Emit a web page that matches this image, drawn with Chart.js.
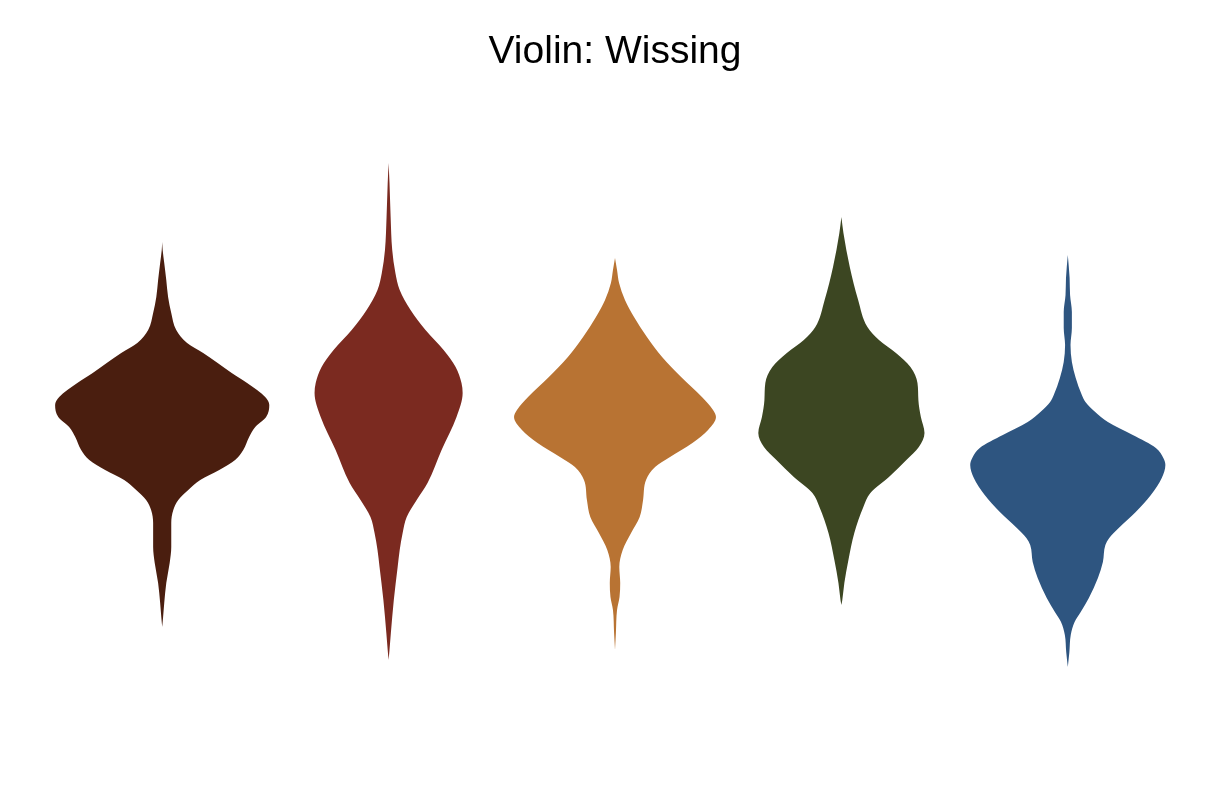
<!DOCTYPE html>
<html>
<head>
<meta charset="utf-8">
<title>Violin: Wissing</title>
<script src="https://cdn.jsdelivr.net/npm/chart.js@4"></script>
<style>
  html, body { margin: 0; padding: 0; background: #fff; }
  #wrap { width: 1213px; height: 808px; position: relative; }
</style>
</head>
<body>
<div id="wrap"><canvas id="chart"></canvas></div>
<script>
// violin positions (category index) and fill colours
const groups = [1, 2, 3, 4, 5];
const colors = ['#4a1e0f', '#7b2a20', '#b87333', '#3c4622', '#2e5580'];

// value grid + half width (kernel density) for every violin
const vals1 = [0.73, 0.83, 0.97, 1.17, 1.37, 1.53, 1.77, 1.90, 2.00, 2.10, 2.20, 2.30, 2.40, 2.50, 2.63, 2.73, 2.83, 2.95, 3.03, 3.17, 3.27, 3.37, 3.47, 3.57, 3.70, 3.87, 4.03, 4.20, 4.37, 4.50, 4.58];
const dens1 = [0, 0.004, 0.009, 0.018, 0.033, 0.040, 0.040, 0.049, 0.071, 0.115, 0.168, 0.252, 0.322, 0.358, 0.384, 0.411, 0.459, 0.473, 0.455, 0.375, 0.307, 0.245, 0.181, 0.110, 0.062, 0.040, 0.026, 0.018, 0.009, 0.002, 0];

const vals2 = [0.40, 0.50, 0.67, 1.00, 1.33, 1.50, 1.67, 1.83, 2.00, 2.17, 2.50, 2.83, 3.07, 3.17, 3.33, 3.50, 3.70, 3.90, 4.10, 4.27, 4.50, 4.83, 5.17, 5.37];
const dens2 = [0, 0.004, 0.010, 0.023, 0.040, 0.049, 0.062, 0.080, 0.124, 0.172, 0.234, 0.300, 0.327, 0.322, 0.296, 0.243, 0.163, 0.097, 0.049, 0.030, 0.016, 0.009, 0.004, 0];

const vals3 = [0.50, 0.67, 0.90, 1.03, 1.17, 1.33, 1.50, 1.67, 1.83, 2.00, 2.20, 2.33, 2.43, 2.57, 2.70, 2.83, 2.90, 3.03, 3.23, 3.43, 3.63, 3.83, 4.00, 4.17, 4.30, 4.42];
const dens3 = [0, 0.004, 0.009, 0.020, 0.023, 0.019, 0.034, 0.071, 0.109, 0.124, 0.137, 0.177, 0.243, 0.342, 0.411, 0.446, 0.433, 0.384, 0.292, 0.208, 0.141, 0.084, 0.044, 0.018, 0.009, 0];

const vals4 = [0.95, 1.00, 1.17, 1.40, 1.67, 1.93, 2.07, 2.23, 2.40, 2.53, 2.67, 2.83, 3.00, 3.17, 3.33, 3.47, 3.60, 3.73, 4.00, 4.33, 4.67, 4.83];
const dens4 = [0, 0.004, 0.013, 0.031, 0.057, 0.097, 0.128, 0.210, 0.287, 0.342, 0.367, 0.351, 0.340, 0.336, 0.305, 0.241, 0.166, 0.115, 0.074, 0.037, 0.009, 0];

const vals5 = [0.33, 0.48, 0.65, 0.78, 0.88, 1.02, 1.22, 1.38, 1.55, 1.62, 1.72, 1.88, 2.05, 2.22, 2.35, 2.42, 2.52, 2.65, 2.78, 2.88, 2.98, 3.05, 3.22, 3.38, 3.55, 3.72, 3.88, 4.05, 4.22, 4.45];
const dens5 = [0, 0.007, 0.013, 0.030, 0.057, 0.093, 0.133, 0.155, 0.166, 0.183, 0.225, 0.300, 0.367, 0.415, 0.431, 0.422, 0.389, 0.287, 0.177, 0.121, 0.078, 0.062, 0.035, 0.018, 0.012, 0.018, 0.018, 0.010, 0.008, 0];

const allVals = [vals1, vals2, vals3, vals4, vals5];
const allDens = [dens1, dens2, dens3, dens4, dens5];

// each violin = right edge filled to left edge
const datasets = [];
groups.forEach((g, i) => {
  const v = allVals[i];
  const d = allDens[i];
  const base = {
    backgroundColor: colors[i],
    borderColor: colors[i],
    borderWidth: 0,
    pointRadius: 0,
    cubicInterpolationMode: 'monotone'
  };
  datasets.push(Object.assign({}, base, {
    label: 'violin ' + g + ' right',
    data: v.map((y, k) => ({ x: g + d[k], y: y })),
    fill: '+1'
  }));
  datasets.push(Object.assign({}, base, {
    label: 'violin ' + g + ' left',
    data: v.map((y, k) => ({ x: g - d[k], y: y })),
    fill: false
  }));
});

new Chart(document.getElementById('chart'), {
  type: 'line',
  data: { datasets: datasets },
  options: {
    indexAxis: 'y',
    responsive: true,
    maintainAspectRatio: false,
    animation: false,
    events: [],
    layout: { padding: { left: 49, right: 32, top: 0, bottom: 108 } },
    plugins: {
      legend: { display: false },
      tooltip: { enabled: false },
      title: {
        display: true,
        text: 'Violin: Wissing',
        color: '#000',
        font: { family: "'Liberation Sans', Arial, sans-serif", size: 39, weight: 'normal' },
        padding: { top: 29, bottom: 24.2 }
      }
    },
    scales: {
      x: { type: 'linear', min: 0.5, max: 5.5, display: false },
      y: { type: 'linear', min: 0, max: 6, display: false }
    }
  }
});
</script>
</body>
</html>
